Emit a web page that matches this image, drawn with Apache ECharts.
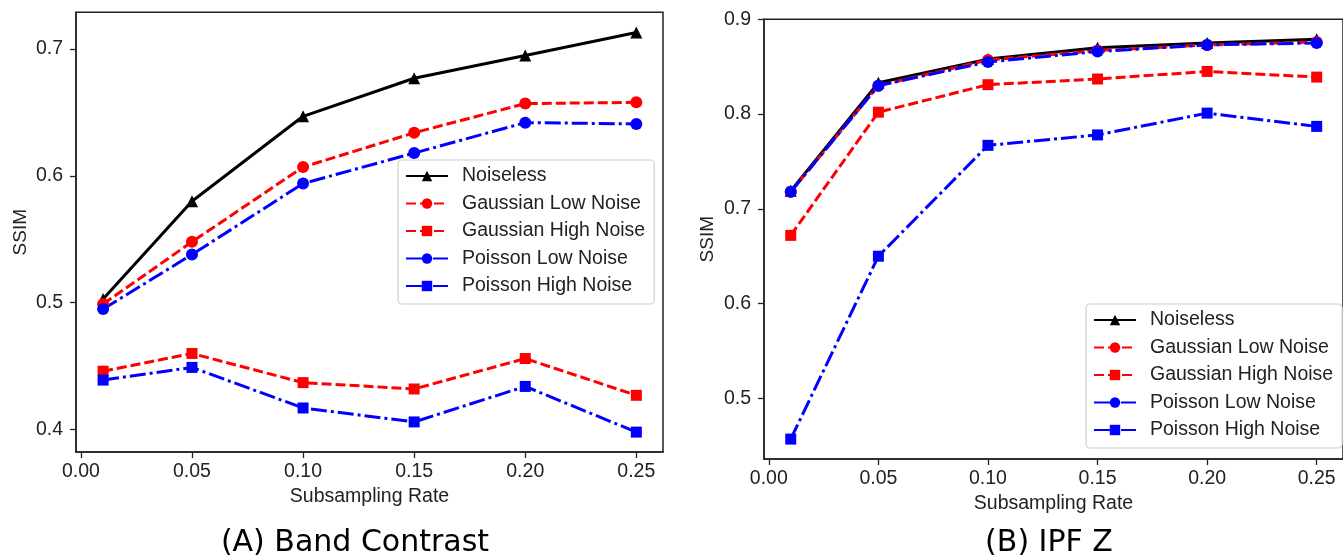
<!DOCTYPE html>
<html>
<head>
<meta charset="utf-8">
<title>SSIM vs Subsampling Rate</title>
<script src="https://cdn.jsdelivr.net/npm/echarts@6/dist/echarts.min.js"></script>
<style>
  html, body { margin: 0; padding: 0; background: #fff; }
  #chart { width: 1343px; height: 556px; }
</style>
</head>
<body>
<div id="chart"></div>
<script>
// Subsampling rates shared by both panels
const rates = [0.01, 0.05, 0.10, 0.15, 0.20, 0.25];
const xTicks = [0, 0.05, 0.10, 0.15, 0.20, 0.25];

// Panel A: Band Contrast
const bandTicks = [0.4, 0.5, 0.6, 0.7];
const bandNoiseless    = [0.503, 0.580, 0.647, 0.677, 0.695, 0.713];
const bandGaussLow     = [0.499, 0.548, 0.607, 0.634, 0.657, 0.658];
const bandGaussHigh    = [0.446, 0.460, 0.437, 0.432, 0.456, 0.427];
const bandPoissonLow   = [0.495, 0.538, 0.594, 0.618, 0.642, 0.641];
const bandPoissonHigh  = [0.439, 0.449, 0.417, 0.406, 0.434, 0.398];

// Panel B: IPF Z
const ipfTicks = [0.5, 0.6, 0.7, 0.8, 0.9];
const ipfNoiseless     = [0.719, 0.833, 0.858, 0.870, 0.875, 0.879];
const ipfGaussLow      = [0.718, 0.830, 0.857, 0.867, 0.873, 0.876];
const ipfGaussHigh     = [0.672, 0.802, 0.831, 0.837, 0.845, 0.839];
const ipfPoissonLow    = [0.718, 0.830, 0.855, 0.866, 0.873, 0.875];
const ipfPoissonHigh   = [0.457, 0.650, 0.767, 0.778, 0.801, 0.787];

const seriesNames = ['Noiseless', 'Gaussian Low Noise', 'Gaussian High Noise', 'Poisson Low Noise', 'Poisson High Noise'];
const captions = ['(A) Band Contrast', '(B) IPF Z'];

const SANS = "'Liberation Sans', Arial, Helvetica, sans-serif";
const INK = '#222';
const DASH = [10, 4];
const DASH_DOT = [16, 4, 3, 4];

const styles = [
  { color: '#000000', symbol: 'triangle', size: 12, dash: 'solid' },
  { color: '#ff0000', symbol: 'circle',   size: 12, dash: DASH },
  { color: '#ff0000', symbol: 'rect',     size: 11, dash: DASH },
  { color: '#0000ff', symbol: 'circle',   size: 12, dash: DASH_DOT },
  { color: '#0000ff', symbol: 'rect',     size: 11, dash: DASH_DOT }
];

function pairs(ys) { return rates.map((x, i) => [x, ys[i]]); }

function makeSeries(panel, valueSets) {
  return valueSets.map((ys, i) => ({
    name: seriesNames[i],
    type: 'line',
    xAxisIndex: panel,
    yAxisIndex: panel,
    data: pairs(ys),
    symbol: styles[i].symbol,
    symbolSize: styles[i].size,
    showAllSymbol: true,
    lineStyle: { color: styles[i].color, width: 3, type: styles[i].dash },
    itemStyle: { color: styles[i].color },
    emphasis: { disabled: true }
  }));
}

function xAxis(grid) {
  return {
    type: 'value', gridIndex: grid, min: -0.0022, max: 0.262,
    name: 'Subsampling Rate', nameLocation: 'middle', nameGap: 35,
    nameTextStyle: { fontFamily: SANS, fontSize: 19.5, color: INK },
    axisLine: { show: true, onZero: false, lineStyle: { color: INK, width: 1.5 } },
    axisTick: { show: true, length: 6, customValues: xTicks, lineStyle: { color: INK, width: 1.3 } },
    axisLabel: { customValues: xTicks, margin: 10, fontFamily: SANS, fontSize: 19.5, color: INK,
                 formatter: v => v.toFixed(2) },
    splitLine: { show: false }
  };
}

function yAxis(grid, min, max, ticks, gap) {
  return {
    type: 'value', gridIndex: grid, min: min, max: max,
    name: 'SSIM', nameLocation: 'middle', nameGap: gap,
    nameTextStyle: { fontFamily: SANS, fontSize: 19, color: INK },
    axisLine: { show: true, onZero: false, lineStyle: { color: INK, width: 1.5 } },
    axisTick: { show: true, length: 6, customValues: ticks, lineStyle: { color: INK, width: 1.3 } },
    axisLabel: { customValues: ticks, margin: 13, fontFamily: SANS, fontSize: 19.5, color: INK,
                 formatter: v => v.toFixed(1) },
    splitLine: { show: false }
  };
}

function legend(left, top) {
  return {
    data: seriesNames, orient: 'vertical', left: left, top: top,
    padding: [6, 9, 8, 7], itemGap: 7.5, itemWidth: 42, itemHeight: 13,
    backgroundColor: 'rgba(255,255,255,0.85)', borderColor: '#cfcfcf', borderWidth: 1.2, borderRadius: 4,
    selectedMode: false,
    textStyle: { fontFamily: SANS, fontSize: 19.5, color: INK, lineHeight: 20, padding: [0, 0, 0, 9] }
  };
}

const chart = echarts.init(document.getElementById('chart'), null, { renderer: 'canvas' });
chart.setOption({
  animation: false,
  backgroundColor: '#ffffff',
  grid: [
    { left: 76, top: 12.3, width: 587, height: 439.7, show: true, borderColor: INK, borderWidth: 1.5, containLabel: false },
    { left: 764, top: 19.3, width: 588, height: 439.7, show: true, borderColor: INK, borderWidth: 1.5, containLabel: false }
  ],
  xAxis: [xAxis(0), xAxis(1)],
  yAxis: [
    yAxis(0, 0.3823, 0.729, bandTicks, 46),
    yAxis(1, 0.436, 0.900, ipfTicks, 47)
  ],
  legend: [legend(398, 160), legend(1086, 304)],
  graphic: [
    { type: 'text', x: 355, y: 543, style: { text: captions[0], fontFamily: "'DejaVu Sans', sans-serif", fontSize: 30, fill: '#000', textAlign: 'center', textVerticalAlign: 'middle' } },
    { type: 'text', x: 1049, y: 543, style: { text: captions[1], fontFamily: "'DejaVu Sans', sans-serif", fontSize: 30, fill: '#000', textAlign: 'center', textVerticalAlign: 'middle' } }
  ],
  series: [
    ...makeSeries(0, [bandNoiseless, bandGaussLow, bandGaussHigh, bandPoissonLow, bandPoissonHigh]),
    ...makeSeries(1, [ipfNoiseless, ipfGaussLow, ipfGaussHigh, ipfPoissonLow, ipfPoissonHigh])
  ]
});
</script>
</body>
</html>
